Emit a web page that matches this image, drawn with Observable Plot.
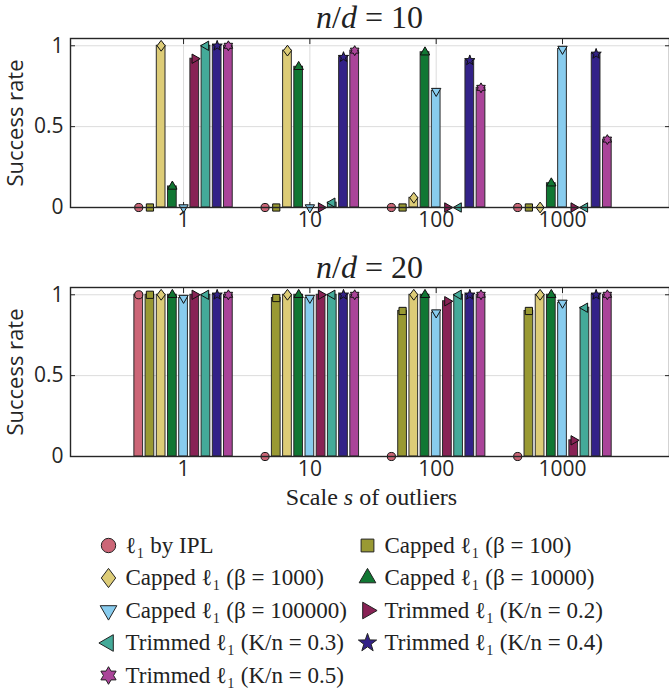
<!DOCTYPE html>
<html><head><meta charset="utf-8">
<script src="https://cdn.jsdelivr.net/npm/d3@7"></script>
<script src="https://cdn.jsdelivr.net/npm/@observablehq/plot@0.6"></script>
<style>
body{margin:0;background:#fff;}
#root{position:relative;width:669px;height:690px;overflow:hidden;background:#fff;}
.abs{position:absolute;}
.title{font-family:"Liberation Serif",serif;font-size:32px;color:#222;text-align:center;left:70px;width:599px;line-height:1;}
.xlabel{font-family:"Liberation Serif",serif;font-size:24px;color:#222;text-align:center;left:72px;width:599px;line-height:1;}
</style></head><body><div id="root"></div>
<script>
// ---- data ----
const categories = ["1", "10", "100", "1000"];
const seriesNames = [
  "ℓ₁ by IPL",
  "Capped ℓ₁ (β = 100)",
  "Capped ℓ₁ (β = 1000)",
  "Capped ℓ₁ (β = 10000)",
  "Capped ℓ₁ (β = 100000)",
  "Trimmed ℓ₁ (K/n = 0.2)",
  "Trimmed ℓ₁ (K/n = 0.3)",
  "Trimmed ℓ₁ (K/n = 0.4)",
  "Trimmed ℓ₁ (K/n = 0.5)"
];
const seriesColors = ["#CC6677", "#999933", "#DDCC77", "#117733", "#88CCEE", "#882255", "#44AA99", "#332288", "#AA4499"];
const seriesSymbols = ["circle", "square", "diamond", "triUp", "triDown", "triRight", "triLeft", "star", "hexagram"];
// rows = categories (scale s), columns = series
const successND10 = [
  [0, 0, 1.00, 0.13, 0, 0.92, 1.00, 1.00, 1.00],
  [0, 0, 0.97, 0.87, 0, 0, 0.03, 0.93, 0.97],
  [0, 0, 0.06, 0.96, 0.72, 0, 0, 0.91, 0.74],
  [0, 0, 0, 0.15, 0.98, 0, 0, 0.95, 0.42]
];
const successND20 = [
  [1.00, 1.00, 1.00, 1.00, 0.98, 1.00, 1.00, 1.00, 1.00],
  [0, 0.98, 1.00, 1.00, 0.98, 1.00, 1.00, 1.00, 1.00],
  [0, 0.90, 1.00, 1.00, 0.89, 0.96, 1.00, 1.00, 1.00],
  [0, 0.90, 1.00, 1.00, 0.95, 0.10, 0.92, 1.00, 1.00]
];
const yTicks = [0, 0.5, 1];
const panelTitles = ["10", "20"];

// ---- symbols ----
function poly(pts, ctx) { pts.forEach(([x, y], i) => i ? ctx.lineTo(x, y) : ctx.moveTo(x, y)); ctx.closePath(); }
function triangle(deg) {
  const a0 = deg * Math.PI / 180;
  return {draw(ctx, size) {
    const r = Math.sqrt(size / Math.PI), R = 1.2 * r;
    poly([0, 1, 2].map(i => [R * Math.cos(a0 + i * 2 * Math.PI / 3), R * Math.sin(a0 + i * 2 * Math.PI / 3)]), ctx);
  }};
}
function starShape(n, outerK, innerK) {
  return {draw(ctx, size) {
    const r = Math.sqrt(size / Math.PI), Ro = outerK * r, Ri = innerK * r;
    const pts = [];
    for (let i = 0; i < 2 * n; i++) {
      const a = -Math.PI / 2 + i * Math.PI / n, R = i % 2 ? Ri : Ro;
      pts.push([R * Math.cos(a), R * Math.sin(a)]);
    }
    poly(pts, ctx);
  }};
}
const symbolDefs = {
  circle: {draw(ctx, size) { const r = 0.9 * Math.sqrt(size / Math.PI); ctx.moveTo(r, 0); ctx.arc(0, 0, r, 0, 2 * Math.PI); }},
  square: {draw(ctx, size) { const h = 0.8 * Math.sqrt(size / Math.PI); poly([[-h, -h], [h, -h], [h, h], [-h, h]], ctx); }},
  diamond: {draw(ctx, size) { const r = Math.sqrt(size / Math.PI); poly([[0, -1.2 * r], [0.9 * r, 0], [0, 1.2 * r], [-0.9 * r, 0]], ctx); }},
  triUp: triangle(-90),
  triDown: triangle(90),
  triRight: triangle(0),
  triLeft: triangle(180),
  star: starShape(5, 1.2, 0.48),
  hexagram: starShape(6, 1.1, 1.1 / Math.sqrt(3))
};

const STEP = 0.0887, HALF = 0.0345;
const ink = "#262626";

function panel(values) {
  const bars = [];
  values.forEach((row, ci) => row.forEach((v, si) => bars.push({cat: ci + 1, s: si, v, pos: ci + 1 + (si - 4) * STEP})));
  const marks = [
    Plot.gridX([1, 2, 3, 4], {stroke: "#dcdcdc", strokeOpacity: 1}),
    Plot.gridY([0.5, 1], {stroke: "#dcdcdc", strokeOpacity: 1}),
    Plot.axisX([1, 2, 3, 4], {anchor: "top", tickSize: -5, fill: "none", stroke: ink, label: null}),
    Plot.axisX([1, 2, 3, 4], {anchor: "bottom", tickSize: -5, fill: "none", stroke: ink, label: null})
  ];
  seriesNames.forEach((name, si) => {
    marks.push(Plot.rectY(bars.filter(d => d.s === si && d.v > 0), {
      x1: d => d.pos - HALF, x2: d => d.pos + HALF, y1: 0, y2: "v",
      fill: seriesColors[si], stroke: "#2a2a2a", strokeWidth: 1
    }));
  });
  seriesNames.forEach((name, si) => {
    marks.push(Plot.dot(bars.filter(d => d.s === si), {
      x: "pos", y: "v", symbol: symbolDefs[seriesSymbols[si]], r: 4.5,
      fill: seriesColors[si], stroke: "#111", strokeWidth: 1
    }));
  });
  marks.push(
    Plot.axisY(yTicks, {anchor: "left", tickSize: -5, tickPadding: 12, tickFormat: d => String(d), stroke: ink, fill: ink, label: null}),
    Plot.axisY(yTicks, {anchor: "right", tickSize: -5, fill: "none", stroke: ink, label: null}),
    Plot.axisX([1, 2, 3, 4], {anchor: "bottom", tickSize: 0, tickPadding: 5, tickFormat: i => categories[i - 1], fill: ink, label: null}),
    Plot.text(["Success rate"], {frameAnchor: "left", rotate: -90, dx: -55, textAnchor: "middle", lineAnchor: "middle", fill: ink, fontSize: 22}),
    Plot.frame({stroke: ink, strokeWidth: 1.4})
  );
  return Plot.plot({
    width: 669, height: 215, marginTop: 8, marginBottom: 38, marginLeft: 70, marginRight: 0,
    style: {fontFamily: "'Open Sans', Lato, sans-serif", fontSize: "21px", color: ink, background: "transparent", overflow: "visible"},
    x: {domain: [0.105, 4.847]},
    y: {domain: [0, 1.045]},
    marks
  });
}

const root = document.getElementById("root");
function place(el, top, left) { el.style.position = "absolute"; el.style.top = top + "px"; el.style.left = (left || 0) + "px"; root.appendChild(el); }

const t1 = document.createElement("div"); t1.className = "title abs"; t1.innerHTML = `<i>n</i>/<i>d</i> = ${panelTitles[0]}`; place(t1, 1, 70);
place(panel(successND10), 30);
const t2 = document.createElement("div"); t2.className = "title abs"; t2.innerHTML = `<i>n</i>/<i>d</i> = ${panelTitles[1]}`; place(t2, 251, 70);
place(panel(successND20), 279);
const xl = document.createElement("div"); xl.className = "xlabel abs"; xl.innerHTML = `Scale <i>s</i> of outliers`; place(xl, 485, 72);

// legend
const legendItems = seriesNames.map((name, i) => ({name, i, col: i % 2, row: Math.floor(i / 2)}));
const legendMarks = [];
legendItems.forEach(d => legendMarks.push(Plot.dot([d], {x: "col", y: "row", symbol: symbolDefs[seriesSymbols[d.i]], r: 8, fill: seriesColors[d.i], stroke: "#222", strokeWidth: 1})));
legendMarks.push(Plot.text(legendItems, {x: "col", y: "row", text: "name", dx: 17, textAnchor: "start", lineAnchor: "middle", fill: "#222"}));
const legend = Plot.plot({
  width: 669, height: 170, margin: 0,
  x: {domain: [0, 1], range: [108, 367], axis: null},
  y: {domain: [0, 4], range: [25, 155], axis: null},
  style: {fontFamily: "'Liberation Serif', serif", fontSize: "23px", background: "transparent", overflow: "visible"},
  marks: legendMarks
});
place(legend, 520);
</script>
</body></html>
